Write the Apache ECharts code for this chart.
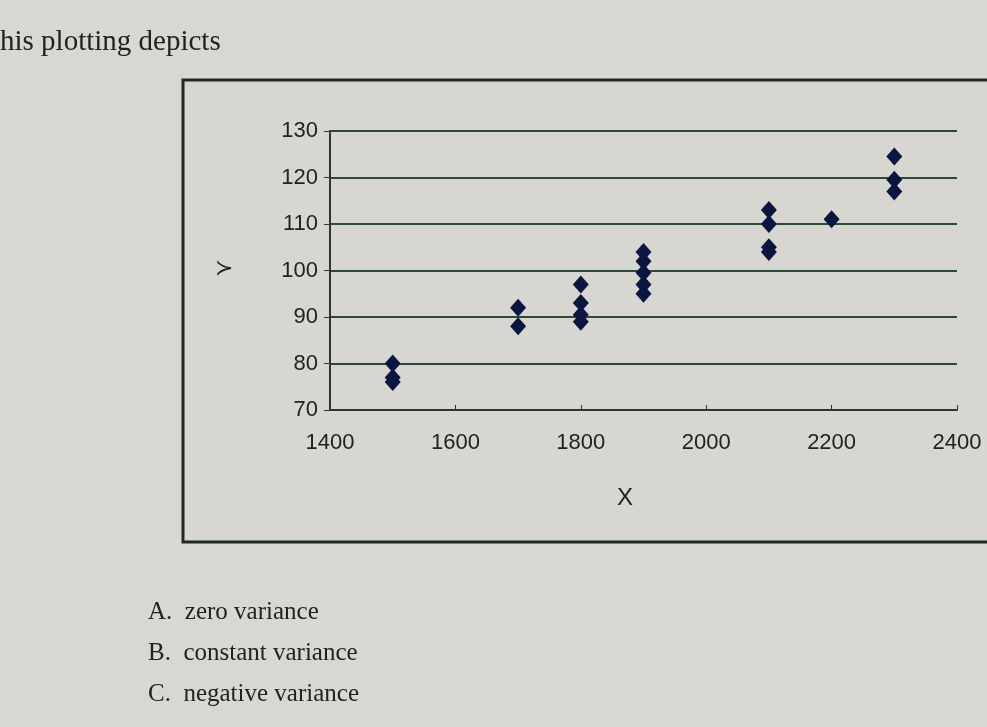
<!DOCTYPE html>
<html>
<head>
<meta charset="utf-8">
<script src="https://cdn.jsdelivr.net/npm/echarts@6/dist/echarts.min.js"></script>
<style>
  html, body { margin: 0; padding: 0; background: #d9d7d2; }
  #main { width: 987px; height: 727px; }
</style>
</head>
<body>
<div id="main"></div>
<script>
// data
var xValues = [1500, 1500, 1500, 1700, 1700, 1800, 1800, 1800, 1800, 1900, 1900, 1900, 1900, 1900, 2100, 2100, 2100, 2100, 2200, 2300, 2300, 2300];
var yValues = [80, 77, 76, 92, 88, 97, 93, 90.5, 89, 104, 102, 99.5, 97, 95, 113, 110, 105, 104, 111, 124.5, 119.5, 117];
var xTicks = [1400, 1600, 1800, 2000, 2200, 2400];
var yTicks = [70, 80, 90, 100, 110, 120, 130];
var options = ['A.  zero variance', 'B.  constant variance', 'C.  negative variance'];

var points = xValues.map(function (x, i) { return [x, yValues[i]]; });

var chart = echarts.init(document.getElementById('main'));
var serif = '"Liberation Serif", "DejaVu Serif", serif';
var sans = '"Liberation Sans", Arial, sans-serif';

chart.setOption({
  backgroundColor: '#d9d7d2',
  animation: false,
  grid: { left: 330, right: 30, top: 131, bottom: 317 },
  graphic: [
    { type: 'text', left: 0, top: 28, style: { text: 'his plotting depicts', font: '29px ' + serif, fill: '#222' } },
    { type: 'rect', shape: { x: 183, y: 80, width: 830, height: 462 },
      style: { fill: '#d8d6d0', stroke: '#1d2a22', lineWidth: 3 }, z: -1 },
    { type: 'text', left: 215, top: 258, style: { text: '≻', font: '22px ' + sans, fill: '#222' } },
    { type: 'text', left: 617, top: 486, style: { text: 'X', font: '24px ' + sans, fill: '#222' } },
    { type: 'text', left: 148, top: 600, style: { text: options[0], font: '25px ' + serif, fill: '#222' } },
    { type: 'text', left: 148, top: 641, style: { text: options[1], font: '25px ' + serif, fill: '#222' } },
    { type: 'text', left: 148, top: 682, style: { text: options[2], font: '25px ' + serif, fill: '#222' } }
  ],
  xAxis: {
    type: 'value', min: 1400, max: 2400, interval: 200,
    axisLine: { lineStyle: { color: '#333', width: 2 } },
    axisTick: { inside: true, length: 5, lineStyle: { color: '#333' } },
    axisLabel: { color: '#222', fontSize: 22, fontFamily: sans, margin: 22,
      formatter: function (v) { return xTicks.indexOf(v) >= 0 ? String(v) : ''; } },
    splitLine: { show: false }
  },
  yAxis: {
    type: 'value', min: 70, max: 130, interval: 10,
    axisLine: { show: true, lineStyle: { color: '#333', width: 2 } },
    axisTick: { show: true, length: 6, lineStyle: { color: '#333' } },
    axisLabel: { color: '#222', fontSize: 22, fontFamily: sans, margin: 12,
      formatter: function (v) { return yTicks.indexOf(v) >= 0 ? String(v) : ''; } },
    splitLine: { lineStyle: { color: '#2c4a36', width: 2 } }
  },
  series: [{
    type: 'scatter',
    symbol: 'diamond',
    symbolSize: [16, 18],
    itemStyle: { color: '#0b1640', opacity: 1 },
    data: points
  }]
});
</script>
</body>
</html>
